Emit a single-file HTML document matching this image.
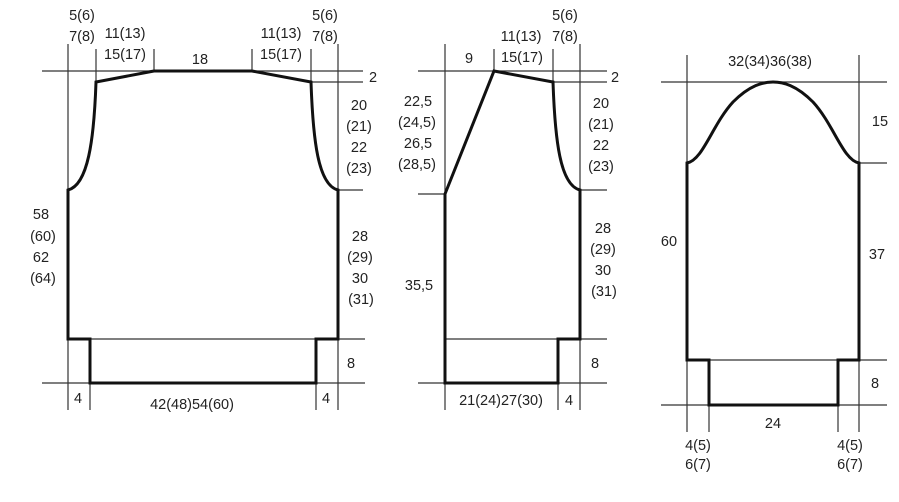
<!DOCTYPE html>
<html><head><style>
html,body{margin:0;padding:0;background:#fff;}
svg{display:block;}
text{font-family:"Liberation Sans",sans-serif;font-size:14.5px;fill:#222;}
</style></head><body>
<svg width="899" height="502" viewBox="0 0 899 502">
<g stroke="#333" stroke-width="1.2" fill="none">
<line x1="42" y1="71" x2="363" y2="71"/>
<line x1="311" y1="82" x2="363" y2="82"/>
<line x1="338" y1="190" x2="363" y2="190"/>
<line x1="90" y1="339" x2="365" y2="339"/>
<line x1="42" y1="383" x2="365" y2="383"/>
<line x1="68" y1="44" x2="68" y2="410"/>
<line x1="338" y1="44" x2="338" y2="410"/>
<line x1="96" y1="49" x2="96" y2="82"/>
<line x1="154" y1="49" x2="154" y2="71"/>
<line x1="252" y1="49" x2="252" y2="71"/>
<line x1="311" y1="49" x2="311" y2="82"/>
<line x1="90" y1="339" x2="90" y2="410"/>
<line x1="316" y1="339" x2="316" y2="410"/>
<line x1="418" y1="71" x2="607" y2="71"/>
<line x1="553" y1="82" x2="607" y2="82"/>
<line x1="580" y1="190" x2="607" y2="190"/>
<line x1="418" y1="194" x2="445" y2="194"/>
<line x1="445" y1="339" x2="607" y2="339"/>
<line x1="418" y1="383" x2="607" y2="383"/>
<line x1="445" y1="44" x2="445" y2="410"/>
<line x1="580" y1="44" x2="580" y2="410"/>
<line x1="494" y1="49" x2="494" y2="71"/>
<line x1="553" y1="49" x2="553" y2="82"/>
<line x1="558" y1="339" x2="558" y2="410"/>
<line x1="661" y1="82" x2="887" y2="82"/>
<line x1="859" y1="163" x2="887" y2="163"/>
<line x1="709" y1="360" x2="887" y2="360"/>
<line x1="661" y1="405" x2="887" y2="405"/>
<line x1="687" y1="55" x2="687" y2="432"/>
<line x1="859" y1="55" x2="859" y2="432"/>
<line x1="709" y1="360" x2="709" y2="432"/>
<line x1="838" y1="360" x2="838" y2="432"/>
</g>
<g stroke="#111" stroke-width="3" fill="none" stroke-linejoin="miter">
<path d="M154 71 L96 82 C94 140 88 185 68 190 L68 339 L90 339 L90 383 L316 383 L316 339 L338 339 L338 190 C318 185 313 140 311 82 L252 71"/>
<line x1="154" y1="71" x2="252" y2="71"/>
<path d="M445 194 L494 71 L553 82 C555 140 560 185 580 190 L580 339 L558 339 L558 383 L445 383 Z"/>
<path d="M687 163 C703 160 712 125 733 102 C750 85 763 82 773 82 C783 82 796 85 813 102 C834 125 843 160 859 163 L859 360 L838 360 L838 405 L709 405 L709 360 L687 360 Z"/>
</g>
<g text-anchor="middle">
<text x="82" y="20">5(6)</text><text x="82" y="41">7(8)</text>
<text x="125" y="38">11(13)</text><text x="125" y="59">15(17)</text>
<text x="200" y="64">18</text>
<text x="281" y="38">11(13)</text><text x="281" y="59">15(17)</text>
<text x="325" y="20">5(6)</text><text x="325" y="41">7(8)</text>
<text x="373" y="82">2</text>
<text x="359" y="110">20</text><text x="359" y="131">(21)</text><text x="359" y="152">22</text><text x="359" y="173">(23)</text>
<text x="41" y="219">58</text><text x="43" y="241">(60)</text><text x="41" y="262">62</text><text x="43" y="283">(64)</text>
<text x="360" y="241">28</text><text x="360" y="262">(29)</text><text x="360" y="283">30</text><text x="361" y="304">(31)</text>
<text x="351" y="368">8</text>
<text x="78" y="403">4</text>
<text x="192" y="409">42(48)54(60)</text>
<text x="326" y="403">4</text>
<text x="418" y="106">22,5</text><text x="417" y="127">(24,5)</text><text x="418" y="148">26,5</text><text x="417" y="169">(28,5)</text>
<text x="469" y="63">9</text>
<text x="521" y="41">11(13)</text><text x="522" y="62">15(17)</text>
<text x="565" y="20">5(6)</text><text x="565" y="41">7(8)</text>
<text x="615" y="82">2</text>
<text x="601" y="108">20</text><text x="601" y="129">(21)</text><text x="601" y="150">22</text><text x="601" y="171">(23)</text>
<text x="419" y="290">35,5</text>
<text x="603" y="233">28</text><text x="603" y="254">(29)</text><text x="603" y="275">30</text><text x="604" y="296">(31)</text>
<text x="595" y="368">8</text>
<text x="501" y="405">21(24)27(30)</text>
<text x="569" y="405">4</text>
<text x="770" y="66">32(34)36(38)</text>
<text x="880" y="126">15</text>
<text x="669" y="246">60</text>
<text x="877" y="259">37</text>
<text x="875" y="388">8</text>
<text x="773" y="428">24</text>
<text x="698" y="450">4(5)</text><text x="698" y="469">6(7)</text>
<text x="850" y="450">4(5)</text><text x="850" y="469">6(7)</text>
</g>
</svg>
</body></html>
